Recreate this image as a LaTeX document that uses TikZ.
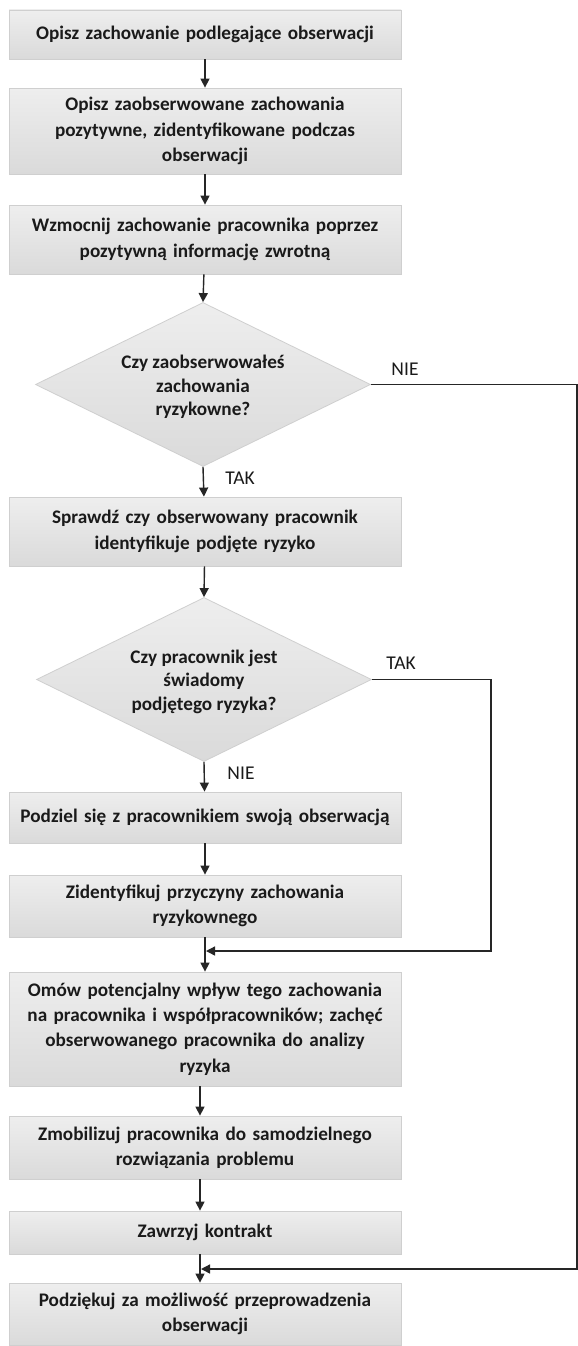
\documentclass[tikz,border=0pt]{standalone}
\usepackage{fontspec}
\setmainfont{Carlito}
\usetikzlibrary{arrows.meta,shapes.geometric}
\definecolor{boxtop}{HTML}{EEEEEE}
\definecolor{boxbot}{HTML}{DADADA}
\definecolor{boxedge}{HTML}{CFCFCF}
\definecolor{ink}{HTML}{1A1A1A}
\definecolor{wire}{HTML}{262626}
\tikzset{
  stepbox/.style={rectangle, draw=boxedge, line width=0.8pt,
    top color=boxtop, bottom color=boxbot,
    minimum width=392pt, text width=380pt, align=center, inner sep=0pt,
    text=ink, font=\bfseries\fontsize{19.2}{25.3}\selectfont},
  decision/.style={diamond, draw=boxedge, line width=0.8pt,
    top color=boxtop, bottom color=boxbot, inner sep=0pt,
    minimum width=335pt, minimum height=164pt},
  decisiontext/.style={align=center, inner sep=0pt, text=ink,
    font=\bfseries\fontsize{19.2}{23.5}\selectfont},
  flowlabel/.style={inner sep=0pt, text=ink,
    font=\fontsize{19.5}{22}\selectfont},
  arr/.style={draw=wire, line width=1.4pt,
    -{Triangle[width=9pt,length=9pt]}},
  wireline/.style={draw=wire, line width=1.4pt}
}
\begin{document}
\begin{tikzpicture}[x=1pt, y=-1pt]
  \useasboundingbox (0,0) rectangle (578,1346);
  \fill[white] (0,0) rectangle (578,1346);

  % process steps
  \node[stepbox, minimum height=49pt]  (b1)  at (205,34.5)  {Opisz zachowanie podlegające obserwacji};
  \node[stepbox, minimum height=86pt]  (b2)  at (205,131)   {Opisz zaobserwowane zachowania\\pozytywne, zidentyfikowane podczas\\obserwacji};
  \node[stepbox, minimum height=69pt]  (b3)  at (205,239.5) {Wzmocnij zachowanie pracownika poprzez\\pozytywną informację zwrotną};

  % first decision
  \node[decision] (d1) at (203,384.5) {};
  \node[decisiontext] (d1t) at (203,387) {Czy zaobserwowałeś\\zachowania\\ryzykowne?};

  \node[stepbox, minimum height=69pt]  (b4)  at (205,531.5) {Sprawdź czy obserwowany pracownik\\identyfikuje podjęte ryzyko};

  % second decision
  \node[decision] (d2) at (204,679.5) {};
  \node[decisiontext] (d2t) at (204,681.5) {Czy pracownik jest\\świadomy\\podjętego ryzyka?};

  \node[stepbox, minimum height=51pt]  (b5)  at (205,817.5) {Podziel się z pracownikiem swoją obserwacją};
  \node[stepbox, minimum height=62pt]  (b6)  at (205,906)   {Zidentyfikuj przyczyny zachowania\\ryzykownego};
  \node[stepbox, minimum height=114pt] (b7)  at (205,1029)  {Omów potencjalny wpływ tego zachowania\\na pracownika i współpracowników; zachęć\\obserwowanego pracownika do analizy\\ryzyka};
  \node[stepbox, minimum height=63pt]  (b8)  at (205,1147.5){Zmobilizuj pracownika do samodzielnego\\rozwiązania problemu};
  \node[stepbox, minimum height=43pt]  (b9)  at (205,1232.5){Zawrzyj kontrakt};
  \node[stepbox, minimum height=62pt]  (b10) at (205,1314)  {Podziękuj za możliwość przeprowadzenia\\obserwacji};

  % branch labels
  \node[flowlabel] (l1) at (405,369) {NIE};
  \node[flowlabel] (l2) at (240,478) {TAK};
  \node[flowlabel] (l3) at (401,663) {TAK};
  \node[flowlabel] (l4) at (241,773) {NIE};

  % main flow
  \draw[arr] (b1) -- (b2);
  \draw[arr] (b2) -- (b3);
  \draw[arr] (b3) -- (d1.north);
  \draw[arr] (d1.south) -- (b4);
  \draw[arr] (b4) -- (d2.north);
  \draw[arr] (d2.south) -- (b5);
  \draw[arr] (b5) -- (b6);
  \draw[arr] (b6) -- (b7);
  \draw[arr] ([xshift=-5pt]b7.south) -- ([xshift=-5pt]b8.north);
  \draw[arr] ([xshift=-5pt]b8.south) -- ([xshift=-5pt]b9.north);
  \draw[arr] ([xshift=-5pt]b9.south) -- ([xshift=-5pt]b10.north);

  % bypass branches
  \coordinate (r1) at (491,951);
  \coordinate (j1) at (206,951);
  \draw[arr] (d2.east) -| (r1) -- (j1);
  \coordinate (r2) at (577,1269);
  \coordinate (j2) at (201,1269);
  \draw[arr] (d1.east) -| (r2) -- (j2);
\end{tikzpicture}
\end{document}
